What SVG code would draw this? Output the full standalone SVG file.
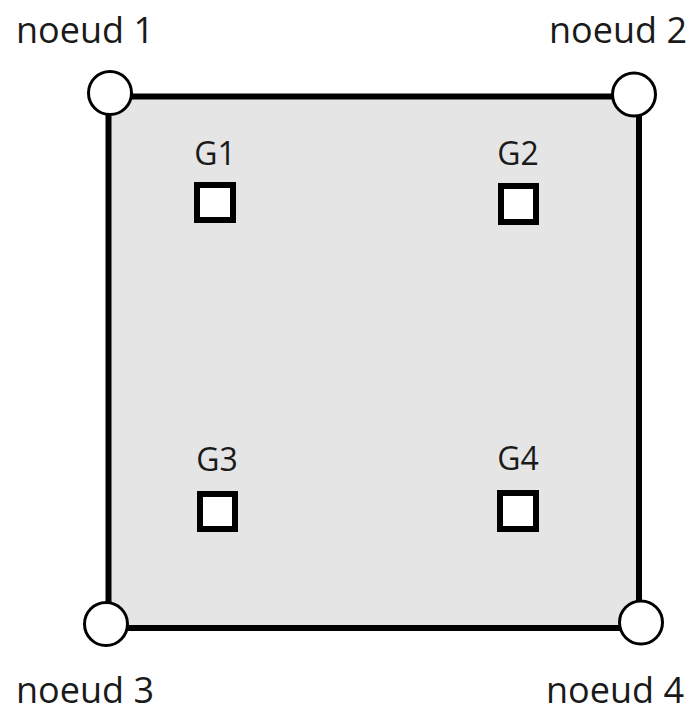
<svg xmlns="http://www.w3.org/2000/svg" width="692" height="713" viewBox="0 0 692 713">
  <style>
    .label { font-family: "Open Sans", "Liberation Sans", sans-serif; font-size: 36px; fill: #1a1a1a; }
    .glabel { font-family: "Open Sans", "Liberation Sans", sans-serif; font-size: 32px; fill: #1a1a1a; text-anchor: middle; }
    .element { fill: #e5e5e5; stroke: #000; stroke-width: 6; }
    .node { fill: #fff; stroke: #000; stroke-width: 3; }
    .gauss { fill: #fff; stroke: #000; stroke-width: 6; }
  </style>
  <rect width="692" height="713" fill="#fff"/>

  <!-- element edges -->
  <g id="connectors">
    <rect class="element" x="108.5" y="96.5" width="530.5" height="531.5"/>
  </g>

  <!-- Gauss points -->
  <g id="g1">
    <text class="glabel" x="215" y="165">G1</text>
    <rect class="gauss" x="197" y="185" width="36" height="35"/>
  </g>
  <g id="g2">
    <text class="glabel" x="518" y="165">G2</text>
    <rect class="gauss" x="501" y="186" width="35" height="36"/>
  </g>
  <g id="g3">
    <text class="glabel" x="217" y="471">G3</text>
    <rect class="gauss" x="200" y="494" width="35" height="35"/>
  </g>
  <g id="g4">
    <text class="glabel" x="518" y="470">G4</text>
    <rect class="gauss" x="500" y="493" width="36" height="36"/>
  </g>

  <!-- corner nodes -->
  <g id="noeud1">
    <circle class="node" cx="110" cy="93" r="21.5"/>
    <text class="label" x="16" y="43">noeud 1</text>
  </g>
  <g id="noeud2">
    <circle class="node" cx="634" cy="94.5" r="21.5"/>
    <text class="label" x="549" y="43">noeud 2</text>
  </g>
  <g id="noeud3">
    <circle class="node" cx="106" cy="624" r="21.5"/>
    <text class="label" x="16" y="703">noeud 3</text>
  </g>
  <g id="noeud4">
    <circle class="node" cx="641" cy="622.5" r="21.5"/>
    <text class="label" x="546" y="703">noeud 4</text>
  </g>
</svg>
